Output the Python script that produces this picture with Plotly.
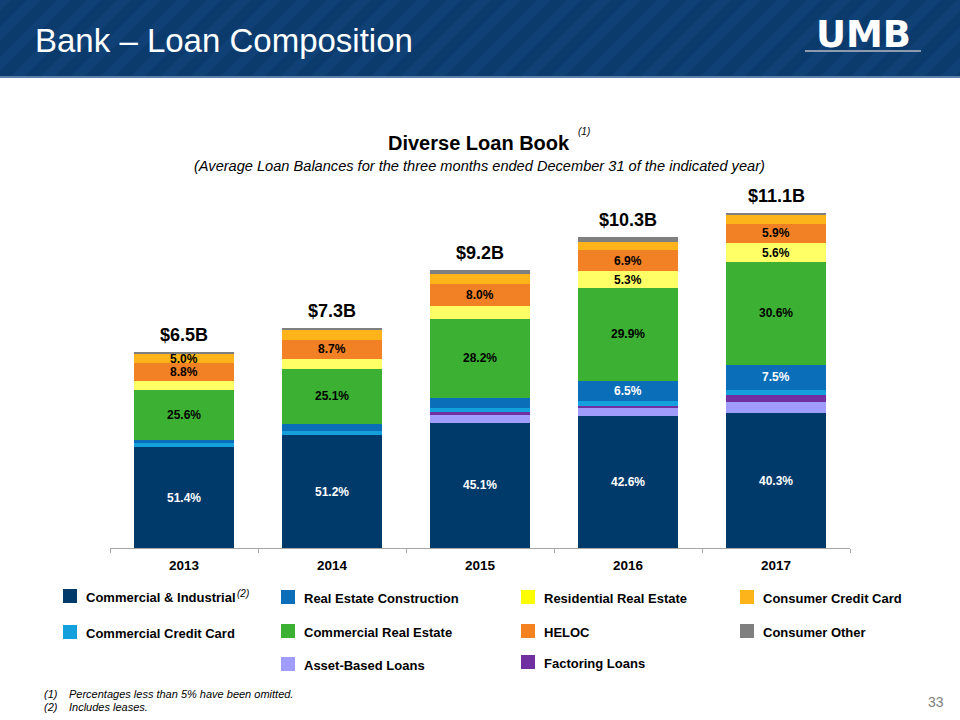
import plotly.graph_objects as go

# ---------------- data ----------------
years = ["2013", "2014", "2015", "2016", "2017"]
totals = [6.5, 7.3, 9.2, 10.3, 11.1]          # $B
total_labels = ["$6.5B", "$7.3B", "$9.2B", "$10.3B", "$11.1B"]

# percentage of each year's total (bottom -> top stacking order)
ci_pct = [51.4, 51.2, 45.1, 42.6, 40.3]             # Commercial & Industrial
abl_pct = [0.0, 0.0, 2.8, 2.3, 3.2]                 # Asset-Based Loans
factoring_pct = [0.0, 0.0, 1.0, 0.8, 2.2]           # Factoring Loans
ccc_pct = [2.0, 2.0, 1.5, 1.6, 1.6]                 # Commercial Credit Card
rec_pct = [1.8, 3.1, 3.8, 6.5, 7.5]                 # Real Estate Construction
cre_pct = [25.6, 25.1, 28.2, 29.9, 30.6]            # Commercial Real Estate
res_pct = [4.5, 4.4, 4.9, 5.3, 5.6]                 # Residential Real Estate
heloc_pct = [8.8, 8.7, 8.0, 6.9, 5.9]               # HELOC
cons_cc_pct = [5.0, 4.4, 3.4, 2.5, 2.6]             # Consumer Credit Card
cons_other_pct = [0.9, 1.1, 1.3, 1.6, 0.5]          # Consumer Other

series_names = ["Commercial & Industrial", "Asset-Based Loans", "Factoring Loans",
                "Commercial Credit Card", "Real Estate Construction",
                "Commercial Real Estate", "Residential Real Estate", "HELOC",
                "Consumer Credit Card", "Consumer Other"]
series_pct = [ci_pct, abl_pct, factoring_pct, ccc_pct, rec_pct, cre_pct,
              res_pct, heloc_pct, cons_cc_pct, cons_other_pct]
series_colors = ["#003A6A", "#A09CFB", "#7030A0", "#14A0DC", "#0A6EB9",
                 "#3BB033", "#FFFF66", "#F28024", "#FDB41B", "#7F7F7F"]
label_colors = ["white", "black", "black", "black", "white",
                "black", "black", "black", "black", "black"]

# ---------------- geometry helpers (pixel -> paper) ----------------
L, R, T, B = 110, 850, 186, 548
W, H = 960, 720
def px(x):
    return (x - L) / (R - L)
def py(y):
    return (B - y) / (B - T)

FONT = "Liberation Sans, Arial, sans-serif"

fig = go.Figure()
cum = [0.0] * len(years)
annotations = []
for name, pct, col, lcol in zip(series_names, series_pct, series_colors, label_colors):
    vals = [p / 100.0 * t for p, t in zip(pct, totals)]
    fig.add_trace(go.Bar(x=years, y=vals, name=name, marker=dict(color=col, line=dict(width=0)),
                         showlegend=False, hoverinfo="name+y"))
    for i, (v, p) in enumerate(zip(vals, pct)):
        if p >= 5.0:
            annotations.append(dict(x=i, y=cum[i] + v / 2, xref="x", yref="y",
                                    text=f"<b>{p:.1f}%</b>", showarrow=False,
                                    font=dict(family=FONT, size=12, color=lcol)))
        cum[i] += v

for i, (t, lab) in enumerate(zip(totals, total_labels)):
    annotations.append(dict(x=i, y=t, xref="x", yref="y", yanchor="bottom", yshift=5,
                            text=f"<b>{lab}</b>", showarrow=False,
                            font=dict(family=FONT, size=18, color="black")))

# ---------------- header banner ----------------
shapes = []
shapes.append(dict(type="rect", xref="paper", yref="paper", x0=px(0), x1=px(W), y0=py(77), y1=py(0),
                   fillcolor="#0B3A6D", line=dict(width=0), layer="below"))
# diagonal stripes
stripe_w = 14
period = 30
x = -80
while x < W + 10:
    x0 = x
    pth = (f"M {px(x0)} {py(77)} L {px(x0 + stripe_w)} {py(77)} "
           f"L {px(x0 + stripe_w + 77)} {py(0)} L {px(x0 + 77)} {py(0)} Z")
    shapes.append(dict(type="path", xref="paper", yref="paper", path=pth,
                       fillcolor="#15487F", opacity=0.5, line=dict(width=0), layer="below"))
    x += period
shapes.append(dict(type="rect", xref="paper", yref="paper", x0=px(0), x1=px(W), y0=py(78), y1=py(76),
                   fillcolor="#5C7FA8", line=dict(width=0)))
# UMB logo underline
shapes.append(dict(type="rect", xref="paper", yref="paper", x0=px(805), x1=px(921), y0=py(52), y1=py(50),
                   fillcolor="#8C9BAE", line=dict(width=0)))

annotations.append(dict(x=px(33), y=py(40), xref="paper", yref="paper", xanchor="left", yanchor="middle",
                        text="Bank – Loan Composition", showarrow=False,
                        font=dict(family=FONT, size=33, color="white")))
annotations.append(dict(x=px(863), y=py(34), xref="paper", yref="paper", xanchor="center", yanchor="middle",
                        text="<b>UMB</b>", showarrow=False,
                        font=dict(family="DejaVu Sans, Arial Black, sans-serif", size=37, color="white")))

# ---------------- titles ----------------
annotations.append(dict(x=px(479), y=py(143), xref="paper", yref="paper", xanchor="center", yanchor="middle",
                        text="<b>Diverse Loan Book</b>", showarrow=False,
                        font=dict(family=FONT, size=20, color="black")))
annotations.append(dict(x=px(576), y=py(131), xref="paper", yref="paper", xanchor="left", yanchor="middle",
                        text="<i>(1)</i>", showarrow=False,
                        font=dict(family=FONT, size=10, color="black")))
annotations.append(dict(x=px(479), y=py(166), xref="paper", yref="paper", xanchor="center", yanchor="middle",
                        text="<i>(Average Loan Balances for the three months ended December 31 of the indicated year)</i>",
                        showarrow=False, font=dict(family=FONT, size=14.6, color="black")))

# ---------------- custom legend ----------------
legend_items = [
    ("Commercial & Industrial", "#003A6A", 63, 596),
    ("Commercial Credit Card", "#14A0DC", 63, 632),
    ("Real Estate Construction", "#0A6EB9", 281, 597),
    ("Commercial Real Estate", "#3BB033", 281, 631),
    ("Asset-Based Loans", "#A09CFB", 281, 664),
    ("Residential Real Estate", "#FFFF00", 521, 597),
    ("HELOC", "#F58220", 521, 631),
    ("Factoring Loans", "#7030A0", 521, 662),
    ("Consumer Credit Card", "#FDB41B", 740, 597),
    ("Consumer Other", "#7F7F7F", 740, 631),
]
for name, col, lx, ly in legend_items:
    shapes.append(dict(type="rect", xref="paper", yref="paper", x0=px(lx), x1=px(lx + 14),
                       y0=py(ly + 7), y1=py(ly - 7), fillcolor=col, line=dict(width=0)))
    annotations.append(dict(x=px(lx + 21), y=py(ly + 1), xref="paper", yref="paper",
                            xanchor="left", yanchor="middle", text=f"<b>{name}</b>", showarrow=False,
                            font=dict(family=FONT, size=13, color="black")))
annotations.append(dict(x=px(235), y=py(593), xref="paper", yref="paper", xanchor="left", yanchor="middle",
                        text="<i>(2)</i>", showarrow=False, font=dict(family=FONT, size=10, color="black")))

# ---------------- footnotes ----------------
for lab, txt, fy in [("(1)", "Percentages less than 5% have been omitted.", 694),
                     ("(2)", "Includes leases.", 707)]:
    annotations.append(dict(x=px(42), y=py(fy), xref="paper", yref="paper", xanchor="left", yanchor="middle",
                            text=f"<i>{lab}</i>", showarrow=False,
                            font=dict(family=FONT, size=11, color="black")))
    annotations.append(dict(x=px(67), y=py(fy), xref="paper", yref="paper", xanchor="left", yanchor="middle",
                            text=f"<i>{txt}</i>", showarrow=False,
                            font=dict(family=FONT, size=11, color="black")))
annotations.append(dict(x=px(946), y=py(702), xref="paper", yref="paper", xanchor="right", yanchor="middle",
                        text="33", showarrow=False, font=dict(family=FONT, size=14, color="#808080")))

fig.update_layout(
    barmode="stack",
    bargap=0.33,
    width=W, height=H,
    margin=dict(l=L, r=W - R, t=T, b=H - B, pad=0),
    paper_bgcolor="white",
    plot_bgcolor="white",
    font=dict(family=FONT, color="black"),
    shapes=shapes,
    annotations=annotations,
    xaxis=dict(type="category", categoryorder="array", categoryarray=years, range=[-0.5, 4.5],
               showline=True, linecolor="#A6A6A6", linewidth=1,
               ticks="outside", tickson="boundaries", ticklen=4, tickcolor="#A6A6A6",
               ticklabelstandoff=5,
               tickfont=dict(family=FONT, size=13.5, color="black"),
               tickvals=years, ticktext=[f"<b>{y}</b>" for y in years],
               showgrid=False, fixedrange=True),
    yaxis=dict(range=[0, 12], visible=False, showgrid=False, zeroline=False, fixedrange=True),
    showlegend=False,
)

fig.write_html("out.html", config={"displayModeBar": False},
               post_script="document.body.style.margin='0';document.body.style.overflow='hidden';")
